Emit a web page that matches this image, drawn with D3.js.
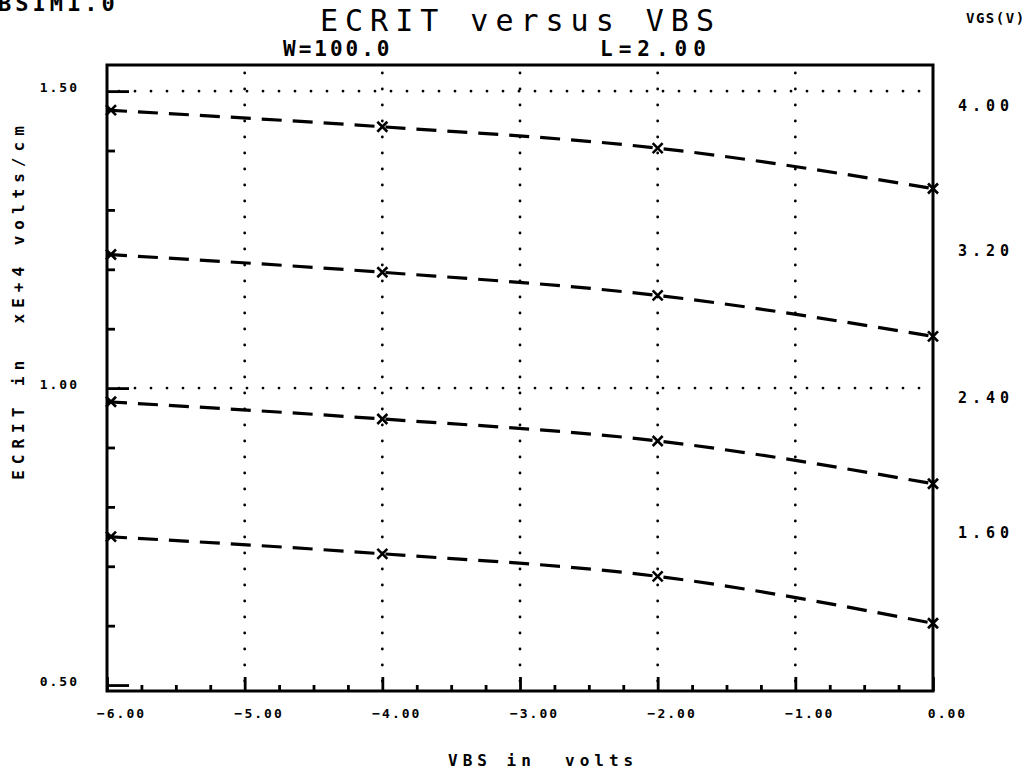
<!DOCTYPE html>
<meta charset="utf-8">
<html>
<style>
	body { margin: 0; background: #fff; }
	text { font-family: "DejaVu Sans Mono", monospace; fill: #000; }
	.tick-label { font-size: 13px; font-weight: bold; letter-spacing: 2px; }
	.curve { fill: none; stroke: #000; stroke-width: 3.2px; stroke-dasharray: 20 11; }
	.grid { stroke: #000; stroke-width: 2.8px; stroke-linecap: round; stroke-dasharray: 0 16; }
	.frame { fill: none; stroke: #000; stroke-width: 3px; }
	.mark { stroke: #000; stroke-width: 2.6px; }
</style>
<body>
	<script src="https://d3js.org/d3.v7.min.js"></script>
	<script type="text/javascript">
		// data
		var vbs = [-6, -4, -2, 0];
		var vgs = ["4.00", "3.20", "2.40", "1.60"];
		var ecrit40 = [1.468, 1.440, 1.404, 1.336];
		var ecrit32 = [1.225, 1.195, 1.156, 1.087];
		var ecrit24 = [0.977, 0.948, 0.911, 0.839];
		var ecrit16 = [0.750, 0.721, 0.683, 0.604];
		var series = [ecrit40, ecrit32, ecrit24, ecrit16];
		var xTicks = [-6, -5, -4, -3, -2, -1, 0];
		var yTicks = [0.5, 1.0, 1.5];

		var width = 1030, height = 779;
		var plotL = 107, plotR = 933, plotT = 65, plotB = 691;

		var svg = d3.select("body").append("svg")
			.attr("width", width)
			.attr("height", height);

		var x = d3.scaleLinear().domain([-6, 0]).range([plotL, plotR]);
		var y = d3.scaleLinear().domain([0.49, 1.544]).range([plotB, plotT]);

		//dotted grid
		svg.selectAll(".vgrid")
			.data(xTicks.slice(1, -1))
			.enter().append("line")
			.attr("class", "grid")
			.attr("x1", function (d) { return x(d); })
			.attr("x2", function (d) { return x(d); })
			.attr("y1", plotT + 8)
			.attr("y2", plotB);
		svg.selectAll(".hgrid")
			.data([1.0, 1.5])
			.enter().append("line")
			.attr("class", "grid")
			.attr("x1", plotL + 12)
			.attr("x2", plotR)
			.attr("y1", function (d) { return y(d); })
			.attr("y2", function (d) { return y(d); });

		//axes: ticks drawn inward
		var xAxis = d3.axisBottom(x).tickValues(xTicks).tickSize(-14).tickFormat(d3.format(".2f"));
		var gx = svg.append("g").attr("transform", "translate(0," + plotB + ")").call(xAxis);
		var xMinor = d3.axisBottom(x).tickValues(d3.range(-6, 0.01, 0.25).filter(function (d) { return d % 1 !== 0; }))
			.tickSize(-6).tickFormat("");
		svg.append("g").attr("transform", "translate(0," + plotB + ")").call(xMinor);

		var yAxis = d3.axisLeft(y).tickValues(yTicks).tickSize(-22).tickFormat(d3.format(".2f"));
		var gy = svg.append("g").attr("transform", "translate(" + plotL + ",0)").call(yAxis);
		var yMinor = d3.axisLeft(y).tickValues(d3.range(0.6, 1.45, 0.1).filter(function (d) { return Math.abs(d - 1) > 0.01; }))
			.tickSize(-8).tickFormat("");
		svg.append("g").attr("transform", "translate(" + plotL + ",0)").call(yMinor);

		svg.selectAll(".domain").remove();
		svg.selectAll(".tick line").attr("stroke", "#000").attr("stroke-width", 2.8);
		gx.selectAll(".tick text").attr("class", "tick-label").attr("x", 14).attr("y", 22).attr("dy", "0.35em");
		gy.selectAll(".tick text").attr("class", "tick-label").attr("x", -28).attr("y", -4).attr("dy", "0.35em");

		svg.append("rect")
			.attr("class", "frame")
			.attr("x", plotL).attr("y", plotT)
			.attr("width", plotR - plotL).attr("height", plotB - plotT);

		//curves
		var line = d3.line()
			.x(function (d, i) { return x(vbs[i]); })
			.y(function (d) { return y(d); })
			.curve(d3.curveMonotoneX);

		series.forEach(function (s, k) {
			svg.append("path")
				.datum(s)
				.attr("class", "curve")
				.attr("d", line);

			var g = svg.selectAll(".mk" + k)
				.data(s)
				.enter().append("g")
				.attr("transform", function (d, i) { return "translate(" + (i === 0 ? x(vbs[i]) + 4 : x(vbs[i])) + "," + y(d) + ")"; });
			g.append("line").attr("class", "mark").attr("x1", -5).attr("y1", -5).attr("x2", 5).attr("y2", 5);
			g.append("line").attr("class", "mark").attr("x1", -5).attr("y1", 5).attr("x2", 5).attr("y2", -5);

			svg.append("text")
				.attr("x", 958)
				.attr("y", y(s[0]) - 4)
				.attr("dy", "0.35em")
				.style("font-size", "15px")
				.style("font-weight", "bold")
				.style("letter-spacing", "5px")
				.text(vgs[k]);
		});

		//texts
		svg.append("text").attr("x", -2).attr("y", 11)
			.style("font-size", "22px").style("font-weight", "bold").style("letter-spacing", "4px").text("BSIM1.0");
		svg.append("text").attr("x", 320).attr("y", 31)
			.style("font-size", "30px").style("letter-spacing", "7px").text("ECRIT versus VBS");
		svg.append("text").attr("x", 283).attr("y", 56)
			.style("font-size", "21px").style("font-weight", "bold").style("letter-spacing", "3px").text("W=100.0");
		svg.append("text").attr("x", 600).attr("y", 56)
			.style("font-size", "21px").style("font-weight", "bold").style("letter-spacing", "6px").text("L=2.00");
		svg.append("text").attr("x", 966).attr("y", 23)
			.style("font-size", "14px").style("font-weight", "bold").style("letter-spacing", "1.5px").text("VGS(V)");
		svg.append("text").attr("x", 448).attr("y", 766)
			.style("font-size", "16px").style("font-weight", "bold").style("letter-spacing", "5px")
			.attr("xml:space", "preserve").text("VBS in  volts");
		svg.append("text")
			.attr("transform", "translate(24,300) rotate(-90)")
			.attr("text-anchor", "middle")
			.style("font-size", "16px").style("font-weight", "bold").style("letter-spacing", "6px")
			.attr("xml:space", "preserve").text("ECRIT in  xE+4 volts/cm");
	</script>
</body>
</html>
